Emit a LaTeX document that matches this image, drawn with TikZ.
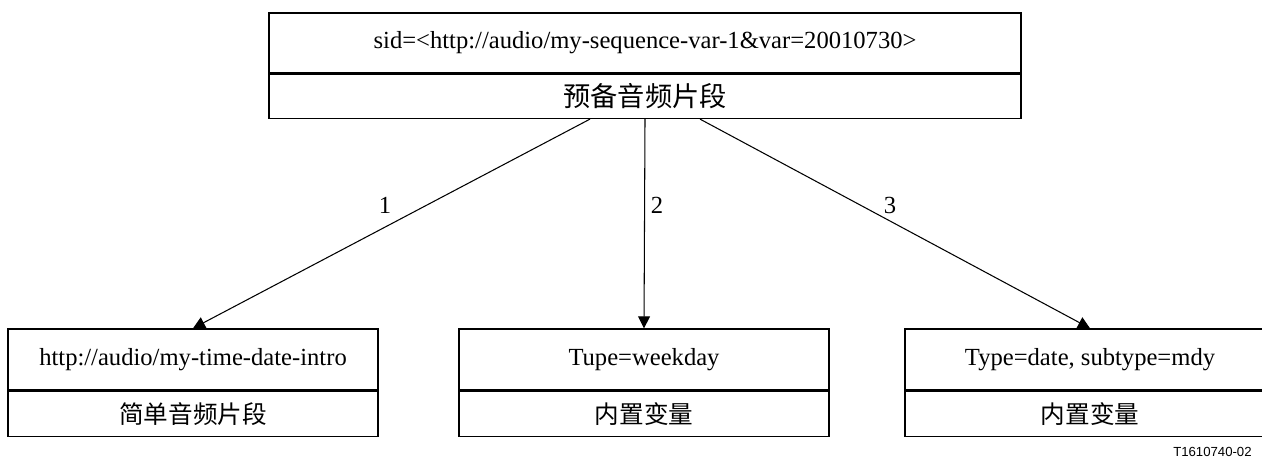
\documentclass[tikz,border=0pt]{standalone}
\usepackage{fontspec}
\setmainfont{Liberation Serif}
\newfontfamily\cjk{Noto Sans CJK SC}
\newfontfamily\tagfont{Liberation Sans}
\usetikzlibrary{arrows.meta,positioning}

\tikzset{
  headpart/.style={draw, line width=.8pt, inner sep=0pt, minimum height=1.2cm},
  namepart/.style={draw, line width=.8pt, inner sep=0pt, minimum height=.9cm, font=\fontsize{14}{16}\cjk},
  link/.style={line width=.6pt, -{Triangle[length=.24cm, width=.24cm]}},
  lbl/.style={inner sep=0pt}
}

\begin{document}
\begin{tikzpicture}[font=\fontsize{14}{16}\selectfont]
    \useasboundingbox (0, 0) rectangle (25.24, 9.38);

    \node[headpart, minimum width=15.04cm, minimum height=1.2cm] (seqtop) at(12.9, 8.52){sid=<http://audio/my-sequence-var-1\&var=20010730>};
      \node[namepart, minimum width=15.04cm, minimum height=.88cm, font=\fontsize{15.5}{18}\cjk, below=0pt of seqtop] (seqname){预备音频片段};

    \node[headpart, minimum width=7.4cm, minimum height=1.22cm] (introtop) at(3.86, 2.19){http://audio/my-time-date-intro};
      \node[namepart, minimum width=7.4cm, below=0pt of introtop] (introname){简单音频片段};
    \node[headpart, minimum width=7.4cm, minimum height=1.22cm] (daytop) at(12.88, 2.19){Tupe=weekday};
      \node[namepart, minimum width=7.4cm, below=0pt of daytop] (dayname){内置变量};
    \node[headpart, minimum width=7.4cm, minimum height=1.22cm] (datetop) at(21.8, 2.19){Type=date, subtype=mdy};
      \node[namepart, minimum width=7.4cm, below=0pt of datetop] (datename){内置变量};

    \coordinate (out1) at([xshift=-1.1cm]seqname.south);
    \coordinate (out2) at(seqname.south);
    \coordinate (out3) at([xshift=1.1cm]seqname.south);

    \draw[link](out1) -- (introtop.north);
    \draw[link](out2) -- (daytop.north);
    \draw[link](out3) -- (datetop.north);

    \node[lbl] (num1) at(7.7, 5.28){1};
    \node[lbl] (num2) at(13.14, 5.28){2};
    \node[lbl] (num3) at(17.8, 5.28){3};

    \node[anchor=east, inner sep=0pt, font=\fontsize{7.5}{9}\tagfont] (figtag) at(25.04, 0.34){T1610740-02};
  \end{tikzpicture}
\end{document}
